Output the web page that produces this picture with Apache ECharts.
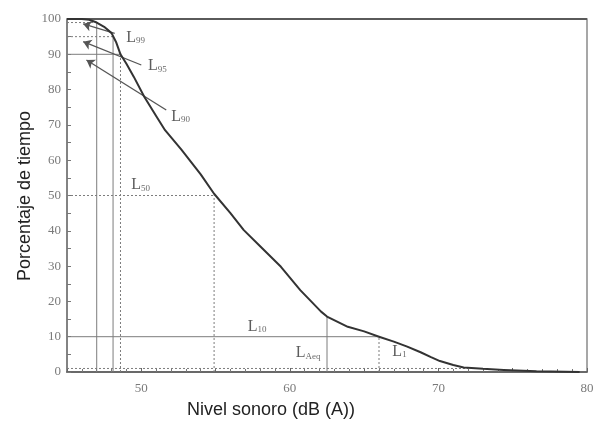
<!DOCTYPE html>
<html>
<head>
<meta charset="utf-8">
<script src="https://cdn.jsdelivr.net/npm/echarts@6/dist/echarts.min.js"></script>
<style>
  html, body { margin: 0; padding: 0; background: #fff; }
  #chart { width: 597px; height: 425px; }
</style>
</head>
<body>
<div id="chart"></div>
<script>
// Cumulative distribution of sound level: % of time the level is exceeded
const levelDb = [45, 46, 46.5, 47.0, 47.5, 48.0, 48.3, 48.6, 49.0, 49.5, 50.2, 51.0, 51.6, 52.7,
  54.0, 54.9, 56.0, 56.9, 58.0, 59.4, 60.7, 62.1, 62.5, 63.9, 65.0, 66.0, 67.0, 67.9, 68.8,
  69.5, 70.1, 71.0, 71.7, 73.0, 74.4, 76.6, 79.5];
const timePct = [100, 100, 99.8, 99.0, 97.8, 96.0, 93.5, 90.0, 87.3, 83.6, 78.0, 72.5, 68.5, 63.0,
  56.0, 50.5, 45.0, 40.2, 35.6, 29.8, 23.2, 17.1, 15.7, 12.8, 11.5, 10.0, 8.6, 7.2, 5.6,
  4.2, 3.1, 2.0, 1.3, 0.9, 0.6, 0.2, 0];

// Percentile levels (dB(A)) and the % of time they correspond to
const L99 = 47.0, L95 = 48.1, L90 = 48.6, L50 = 54.9, L10 = 66.0, L1 = 72.0;
const LAeq = 62.5, LAeqPct = 15.7;

// Guide lines drawn from the axes to the curve
const solidGuides = [
  [[L99, 0], [L99, 99]],
  [[L95, 0], [L95, 95]],
  [[45, 90], [L90, 90]],
  [[45, 10], [L10, 10]],
  [[LAeq, 0], [LAeq, LAeqPct]]
];
const dottedGuides = [
  [[45, 99], [L99, 99]],
  [[45, 95], [L95, 95]],
  [[L90, 0], [L90, 90]],
  [[45, 50], [L50, 50]],
  [[L50, 0], [L50, 50]],
  [[L10, 0], [L10, 10]],
  [[45, 1], [L1, 1]]
];

// Pointer arrows from the labels to the guide lines
const arrows = [
  [[48.21, 95.95], [46.09, 98.6]],
  [[50.0, 86.97], [46.09, 93.57]],
  [[51.68, 74.2], [46.31, 88.4]]
];

// Percentile labels: [dB, %, subscript]
const tags = [
  [48.99, 97.0, '99'],
  [50.45, 88.9, '95'],
  [52.01, 74.7, '90'],
  [49.33, 55.3, '50'],
  [57.16, 15.2, '10'],
  [60.4, 7.6, 'Aeq'],
  [66.9, 8.1, '1']
];

const xTickLabels = [50, 60, 70, 80];

const chart = echarts.init(document.getElementById('chart'), null, { renderer: 'canvas' });

const guideSeries = (segments, type, color, width) => segments.map(seg => ({
  type: 'line',
  data: seg,
  symbol: 'none',
  silent: true,
  z: 2,
  lineStyle: { color: color, width: width, type: type }
}));

const tickFont = { fontFamily: 'Liberation Serif', fontSize: 13, color: '#7a7a7a' };

chart.setOption({
  animation: false,
  backgroundColor: '#ffffff',
  grid: {
    left: 67, right: 10, top: 19, bottom: 53,
    show: true, borderColor: '#8a8a8a', borderWidth: 1.5, backgroundColor: 'transparent'
  },
  xAxis: {
    type: 'value', min: 45, max: 80, interval: 5,
    axisLine: { show: true, lineStyle: { color: '#555', width: 1.5 } },
    axisTick: { show: true, inside: true, length: 4, lineStyle: { color: '#666' } },
    minorTick: { show: true, splitNumber: 5, length: 3, lineStyle: { color: '#777' } },
    splitLine: { show: false },
    axisLabel: Object.assign({
      margin: 10,
      formatter: v => (xTickLabels.indexOf(v) >= 0 ? String(v) : '')
    }, tickFont)
  },
  yAxis: {
    type: 'value', min: 0, max: 100, interval: 10,
    axisLine: { show: true, lineStyle: { color: '#777', width: 1.5 } },
    axisTick: { show: true, inside: true, length: 4, lineStyle: { color: '#777' } },
    minorTick: { show: true, splitNumber: 2, length: 4, lineStyle: { color: '#777' } },
    splitLine: { show: false },
    axisLabel: Object.assign({ margin: 6 }, tickFont)
  },
  graphic: [
    {
      type: 'rect', left: 67, top: 18, silent: true,
      shape: { width: 520, height: 2 }, style: { fill: '#5a5a5a' }
    },
    {
      type: 'text', x: 271, y: 410, silent: true,
      style: {
        text: 'Nivel sonoro (dB (A))', fontFamily: 'Liberation Sans', fontSize: 18,
        fill: '#222', align: 'center', verticalAlign: 'middle'
      }
    },
    {
      type: 'text', x: 25, y: 196, rotation: Math.PI / 2, silent: true,
      style: {
        text: 'Porcentaje de tiempo', fontFamily: 'Liberation Sans', fontSize: 18,
        fill: '#222', align: 'center', verticalAlign: 'middle'
      }
    }
  ],
  series: [
    ...guideSeries(solidGuides, 'solid', '#7d7d7d', 1),
    ...guideSeries(dottedGuides, [2, 2], '#7d7d7d', 1),
    {
      type: 'line',
      data: levelDb.map((x, i) => [x, timePct[i]]),
      symbol: 'none',
      smooth: false,
      z: 5,
      lineStyle: { color: '#333', width: 2, join: 'round' }
    },
    {
      type: 'lines',
      coordinateSystem: 'cartesian2d',
      silent: true,
      z: 4,
      symbol: ['none', 'arrow'],
      symbolSize: 8,
      data: arrows.map(a => ({ coords: a })),
      lineStyle: { color: '#555', width: 1.3, opacity: 1 }
    },
    {
      type: 'scatter',
      symbolSize: 0,
      silent: true,
      z: 6,
      data: tags,
      label: {
        show: true,
        position: 'inside',
        align: 'left',
        verticalAlign: 'top',
        formatter: p => '{l|L}{s|' + p.data[2] + '}',
        rich: {
          l: { fontFamily: 'Liberation Serif', fontSize: 16, color: '#333', lineHeight: 16, verticalAlign: 'top' },
          s: { fontFamily: 'Liberation Serif', fontSize: 9, color: '#444', lineHeight: 16, verticalAlign: 'bottom', padding: [11, 0, 0, 0] }
        }
      }
    }
  ]
});
</script>
</body>
</html>
